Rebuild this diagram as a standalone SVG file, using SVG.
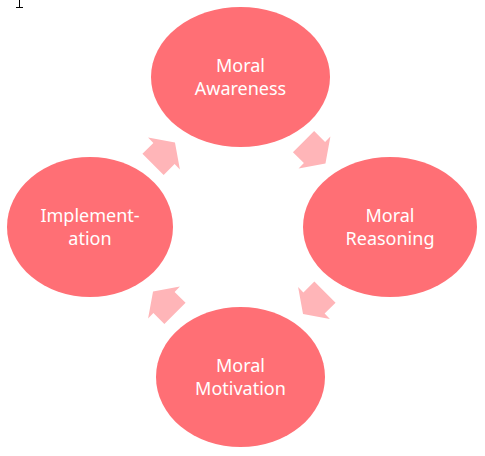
<svg xmlns="http://www.w3.org/2000/svg" width="485" height="456" viewBox="0 0 485 456">
<style>
.node{fill:#FF6F75;}
.lbl{font-family:"Noto Sans","Open Sans","DejaVu Sans",sans-serif;font-size:18px;fill:#FFFFFF;text-anchor:middle;}
.arr{fill:#FFB5B8;}
</style>
<defs>
<polygon id="ar" points="-15.5,-15 0,-15 0,-22.5 15.5,0 0,22.5 0,15 -15.5,15"/>
</defs>
<rect width="485" height="456" fill="#FFFFFF"/>
<path d="M19.5 0V7M16 7.5H23" stroke="#000" stroke-width="1" fill="none"/>
<g id="connectors" class="arr">
<use href="#ar" transform="translate(164,153.5) rotate(-45)"/>
<use href="#ar" transform="translate(314.5,152.5) rotate(45)"/>
<use href="#ar" transform="translate(314,303) rotate(135)"/>
<use href="#ar" transform="translate(164,302.5) rotate(-135)"/>
</g>
<g id="moral-awareness">
<ellipse class="node" cx="240.5" cy="77" rx="89.5" ry="70"/>
<text class="lbl" x="240.5" y="72">Moral</text>
<text class="lbl" x="240.5" y="94.5">Awareness</text>
</g>
<g id="moral-reasoning">
<ellipse class="node" cx="390" cy="227" rx="87" ry="70"/>
<text class="lbl" x="390" y="222">Moral</text>
<text class="lbl" x="390" y="244.5">Reasoning</text>
</g>
<g id="moral-motivation">
<ellipse class="node" cx="240.5" cy="377" rx="84.5" ry="70"/>
<text class="lbl" x="240.5" y="372">Moral</text>
<text class="lbl" x="240.5" y="394.5">Motivation</text>
</g>
<g id="implementation">
<ellipse class="node" cx="90" cy="227" rx="83" ry="70"/>
<text class="lbl" x="90" y="222">Implement-</text>
<text class="lbl" x="90" y="244.5">ation</text>
</g>
</svg>
